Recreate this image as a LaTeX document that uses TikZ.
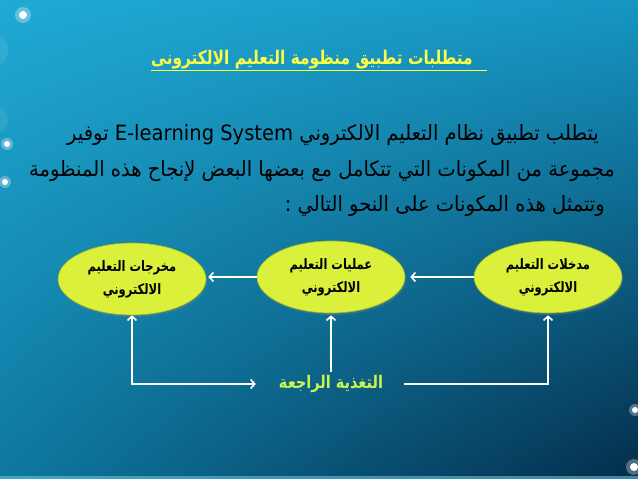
\documentclass[tikz,border=0pt]{standalone}
\usepackage{fontspec}
\usepackage{graphicx}
\usetikzlibrary{arrows.meta,shapes.geometric,shadows,shadings}
\TeXXeTstate=1
\newfontfamily\arabicfont[Script=Arabic]{DejaVu Sans}
\definecolor{bgUL}{RGB}{32,170,212}
\definecolor{bgUR}{RGB}{22,150,195}
\definecolor{bgLL}{RGB}{14,120,160}
\definecolor{bgLR}{RGB}{4,45,75}
\definecolor{ellfill}{RGB}{218,240,58}
\definecolor{elledge}{RGB}{150,185,40}
\definecolor{titleyellow}{RGB}{255,255,70}
\definecolor{fbgreen}{RGB}{200,245,80}
\tikzset{
  ellnode/.style={ellipse, fill=ellfill, draw=elledge, line width=0.6pt,
    minimum width=148pt, minimum height=72pt, inner sep=0pt, align=center,
    font=\arabicfont\bfseries\fontsize{11.5}{23}\selectfont,
    drop shadow={shadow xshift=1pt, shadow yshift=-2pt, opacity=0.35}},
  arr/.style={draw=white, line width=1.6pt, -{Straight Barb[length=4pt,width=9pt]}},
  arrboth/.style={draw=white, line width=1.6pt, {Straight Barb[length=4pt,width=9pt]}-{Straight Barb[length=4pt,width=9pt]}},
  paraline/.style={font=\arabicfont\fontsize{19.5}{22}\selectfont, text=black, inner sep=0pt},
  dotglow/.style={fill=white, opacity=0.3},
  dotcore/.style={fill=white}
}
\newcommand{\tallR}[2][1.22]{\scalebox{1}[#1]{\beginR #2\endR}}
\begin{document}
\begin{tikzpicture}[x=1pt,y=-1pt]
\useasboundingbox (0,0) rectangle (638,479);
\shade[upper left=bgUL, upper right=bgUR, lower left=bgLL, lower right=bgLR] (0,0) rectangle (638,479);
\fill[bgUL!70!white, opacity=0.6] (0,476) rectangle (638,479);
% soft glow on the left edge
\foreach \gy/\gr in {50/14, 120/12} {
  \fill[white, opacity=0.08] (0,\gy) ellipse (8 and \gr);
}
% glow dots
\foreach \px/\py/\r in {23/15/4, 7/144/3, 5/182/3, 635/410/3, 634/467/4} {
  \fill[dotglow] (\px,\py) circle (\r*2);
  \fill[dotcore] (\px,\py) circle (\r);
}
% title
\node[font=\arabicfont\bfseries\fontsize{15.4}{20}\selectfont, text=titleyellow, inner sep=0pt, anchor=base] (title) at (312,64) {\tallR{متطلبات تطبيق منظومة التعليم الالكترونى}};
\draw[titleyellow, line width=1.3pt] (title.west |- 0,70.5) -- ([xshift=14pt]title.east |- 0,70.5);
% paragraph
\node[paraline, anchor=base east] (p1) at (599,140) {\tallR[1.08]{يتطلب تطبيق نظام التعليم الالكتروني \beginL E-learning System\endL{} توفير}};
\node[paraline, anchor=base east] (p2) at (615,176) {\tallR[1.08]{مجموعة من المكونات التي تتكامل مع بعضها البعض لإنجاح هذه المنظومة}};
\node[paraline, anchor=base east] (p3) at (605,211) {\tallR[1.08]{وتتمثل هذه المكونات على النحو التالي :}};
% ellipses
\node[ellnode] (out) at (132,279) {\tallR[1.25]{مخرجات التعليم}\\\tallR[1.25]{الالكتروني}};
\node[ellnode] (proc) at (331,277) {\tallR[1.25]{عمليات التعليم}\\\tallR[1.25]{الالكتروني}};
\node[ellnode] (inp) at (548,277) {\tallR[1.25]{مدخلات التعليم}\\\tallR[1.25]{الالكتروني}};
% feedback
\node[font=\arabicfont\bfseries\fontsize{14.5}{18}\selectfont, text=fbgreen, inner xsep=21pt, inner ysep=3pt] (fb) at (331,384) {\tallR[1.2]{التغذية الراجعة}};
% arrows
\draw[arr, shorten >=5pt] (inp.west) -- (proc.east);
\draw[arr, shorten >=2pt] (proc.west) -- (proc.west -| out.east);
\draw[arr, shorten >=2pt] (fb.north) -- (proc.south);
\draw[arrboth, shorten >=2pt] (out.south) |- (fb.west);
\draw[arr, shorten >=2pt] (fb.east) -| (inp.south);
\end{tikzpicture}
\end{document}
